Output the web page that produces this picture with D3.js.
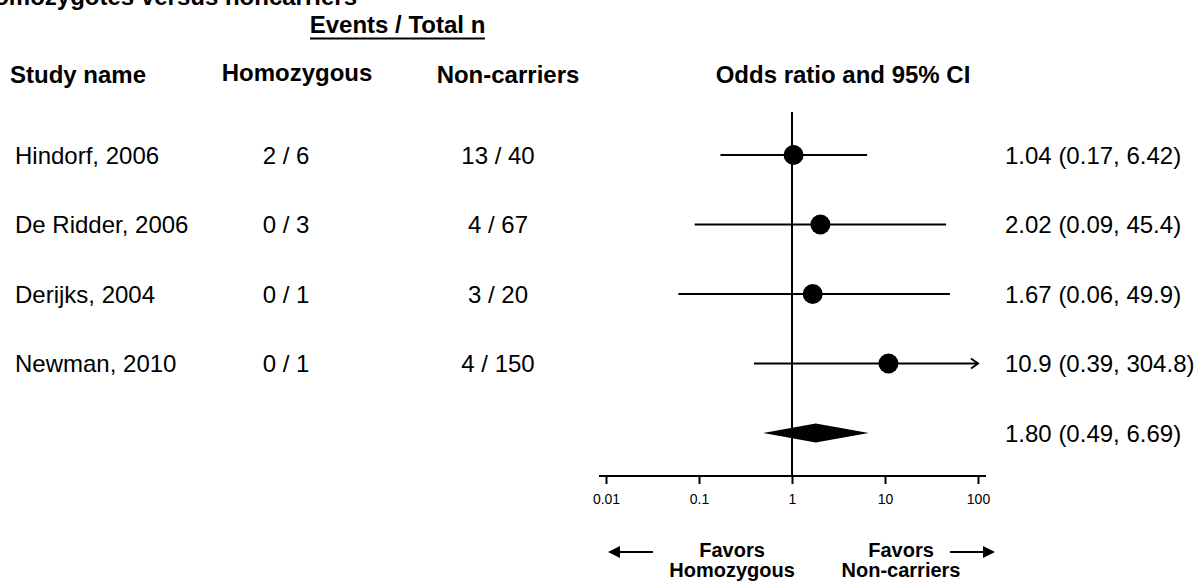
<!DOCTYPE html>
<html>
<head>
<meta charset="utf-8">
<script src="https://cdn.jsdelivr.net/npm/d3@7"></script>
<style>
  html, body { margin: 0; padding: 0; background: #fff; }
  svg { display: block; font-family: "Liberation Sans", Arial, sans-serif; }
</style>
</head>
<body>
<svg id="chart" width="1195" height="584"></svg>
<script>
// ---- data ----
const studies = ["Hindorf, 2006", "De Ridder, 2006", "Derijks, 2004", "Newman, 2010"];
const homoEvents = [2, 0, 0, 0];
const homoTotal = [6, 3, 1, 1];
const nonEvents = [13, 4, 3, 4];
const nonTotal = [40, 67, 20, 150];
const oddsRatio = [1.04, 2.02, 1.67, 10.9];
const ciLower = [0.17, 0.09, 0.06, 0.39];
const ciUpper = [6.42, 45.4, 49.9, 304.8];
const ciLabels = ["1.04 (0.17, 6.42)", "2.02 (0.09, 45.4)", "1.67 (0.06, 49.9)", "10.9 (0.39, 304.8)"];
const summaryOR = 1.80, summaryLower = 0.49, summaryUpper = 6.69;
const summaryLabel = "1.80 (0.49, 6.69)";
const tickValues = [0.01, 0.1, 1, 10, 100];
const tickLabels = ["0.01", "0.1", "1", "10", "100"];
const title = "Homozygotes versus noncarriers";

// ---- layout ----
const svg = d3.select("#chart");
const x = d3.scaleLog().domain([0.01, 100]).range([606, 978]);
const rowKeys = studies.concat(["__summary"]);
const y = d3.scalePoint().domain(rowKeys).range([155, 433]);
const axisY = 476;
const fs = 24;

// title (cut off at top/left in the original)
svg.append("text").attr("x", 357).attr("y", 5).attr("text-anchor", "end")
  .attr("font-size", fs).attr("font-weight", "bold").text(title);

// header
svg.append("text").attr("x", 397.5).attr("y", 33).attr("text-anchor", "middle")
  .attr("font-size", fs).attr("font-weight", "bold").text("Events / Total n");
svg.append("line").attr("x1", 310).attr("x2", 485).attr("y1", 38.5).attr("y2", 38.5)
  .attr("stroke", "#000").attr("stroke-width", 2);

const headers = [
  {t: "Study name", x: 10, a: "start", y: 83},
  {t: "Homozygous", x: 297, a: "middle", y: 81},
  {t: "Non-carriers", x: 508, a: "middle", y: 83},
  {t: "Odds ratio and 95% CI", x: 843, a: "middle", y: 83}
];
svg.selectAll("text.hdr").data(headers).enter().append("text").attr("class", "hdr")
  .attr("x", d => d.x).attr("y", d => d.y).attr("text-anchor", d => d.a)
  .attr("font-size", fs).attr("font-weight", "bold").text(d => d.t);

// row texts
const rows = studies.map((s, i) => ({
  name: s, he: homoEvents[i], ht: homoTotal[i], ne: nonEvents[i], nt: nonTotal[i],
  or: oddsRatio[i], lo: ciLower[i], hi: ciUpper[i], label: ciLabels[i]
}));
const base = 8.5;
const g = svg.selectAll("g.row").data(rows).enter().append("g").attr("class", "row");
g.append("text").attr("x", 15).attr("y", d => y(d.name) + base).attr("font-size", fs).text(d => d.name);
g.append("text").attr("x", 286).attr("y", d => y(d.name) + base).attr("text-anchor", "middle")
  .attr("font-size", fs).text(d => d.he + " / " + d.ht);
g.append("text").attr("x", 498).attr("y", d => y(d.name) + base).attr("text-anchor", "middle")
  .attr("font-size", fs).text(d => d.ne + " / " + d.nt);
g.append("text").attr("x", 1005).attr("y", d => y(d.name) + base)
  .attr("font-size", fs).text(d => d.label);

// reference line at 1
svg.append("line").attr("x1", x(1)).attr("x2", x(1)).attr("y1", 112).attr("y2", axisY)
  .attr("stroke", "#000").attr("stroke-width", 2);

// CI lines
const xmax = x.domain()[1];
g.append("line")
  .attr("x1", d => x(Math.max(d.lo, x.domain()[0])))
  .attr("x2", d => x(Math.min(d.hi, xmax)))
  .attr("y1", d => y(d.name)).attr("y2", d => y(d.name))
  .attr("stroke", "#000").attr("stroke-width", 2);
// arrow heads for truncated CIs
g.filter(d => d.hi > xmax).append("path")
  .attr("d", d => {
    const xe = x(xmax), yy = y(d.name);
    return `M${xe - 7},${yy - 5} L${xe},${yy} L${xe - 7},${yy + 5}`;
  })
  .attr("fill", "none").attr("stroke", "#000").attr("stroke-width", 2);
g.append("circle").attr("cx", d => x(d.or)).attr("cy", d => y(d.name)).attr("r", 10).attr("fill", "#000");

// summary diamond
const ys = y("__summary");
svg.append("path")
  .attr("d", `M${x(summaryLower)},${ys} L${x(summaryOR)},${ys - 9.5} L${x(summaryUpper)},${ys} L${x(summaryOR)},${ys + 9.5} Z`)
  .attr("fill", "#000");
svg.append("text").attr("x", 1005).attr("y", ys + base).attr("font-size", fs).text(summaryLabel);

// axis
svg.append("line").attr("x1", x.range()[0] - 7).attr("x2", x.range()[1] + 8)
  .attr("y1", axisY).attr("y2", axisY).attr("stroke", "#000").attr("stroke-width", 2);
const axis = d3.axisBottom(x).tickValues(tickValues).tickFormat((d, i) => tickLabels[i])
  .tickSize(8).tickPadding(10);
const ag = svg.append("g").attr("transform", `translate(0,${axisY})`).call(axis);
ag.select(".domain").remove();
ag.selectAll(".tick line").attr("stroke", "#000").attr("stroke-width", 2);
ag.selectAll(".tick text").attr("font-size", 14).attr("fill", "#000")
  .attr("font-family", "'Liberation Sans', Arial, sans-serif");

// favors labels
const fav = [
  {l1: "Favors", l2: "Homozygous", x: 732},
  {l1: "Favors", l2: "Non-carriers", x: 901}
];
fav.forEach(f => {
  svg.append("text").attr("x", f.x).attr("y", 557).attr("text-anchor", "middle")
    .attr("font-size", 20).attr("font-weight", "bold").text(f.l1);
  svg.append("text").attr("x", f.x).attr("y", 577).attr("text-anchor", "middle")
    .attr("font-size", 20).attr("font-weight", "bold").text(f.l2);
});
// arrows
svg.append("line").attr("x1", 653).attr("x2", 618).attr("y1", 552).attr("y2", 552).attr("stroke", "#000").attr("stroke-width", 2);
svg.append("path").attr("d", "M608,552 L620,546 L620,558 Z").attr("fill", "#000");
svg.append("line").attr("x1", 950).attr("x2", 985).attr("y1", 552).attr("y2", 552).attr("stroke", "#000").attr("stroke-width", 2);
svg.append("path").attr("d", "M995,552 L983,546 L983,558 Z").attr("fill", "#000");
</script>
</body>
</html>
